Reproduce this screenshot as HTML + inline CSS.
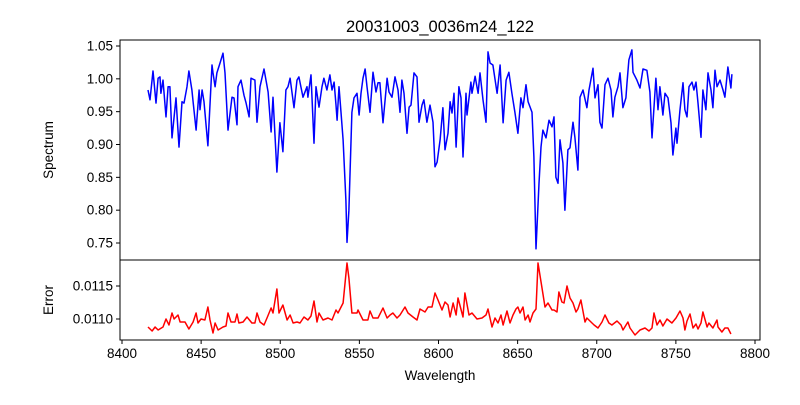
<!DOCTYPE html>
<html><head><meta charset="utf-8"><style>
body{margin:0;background:#fff}
svg text{font-family:"Liberation Sans","DejaVu Sans",sans-serif;fill:#000}
</style></head><body>
<svg id="chart" width="800" height="400" xmlns="http://www.w3.org/2000/svg">
<rect width="800" height="400" fill="#fff"/>
<text x="440" y="32" font-size="16.5" text-anchor="middle">20031003_0036m24_122</text>
<g id="topPanel"></g>
<g id="botPanel"></g>
<text transform="translate(53,150) rotate(-90)" font-size="13.5" text-anchor="middle">Spectrum</text>
<text transform="translate(53,300) rotate(-90)" font-size="13.5" text-anchor="middle">Error</text>
<text x="440" y="380" font-size="13.5" text-anchor="middle">Wavelength</text>
</svg>
<script>
const specWave=[8416.4,8417.7,8419.6,8421.5,8422.8,8424.0,8424.6,8425.9,8427.8,8429.1,8430.3,8431.6,8434.1,8436.0,8437.9,8439.2,8441.1,8442.3,8444.2,8444.9,8446.8,8448.7,8449.3,8450.6,8451.8,8454.3,8456.9,8457.5,8458.8,8460.0,8461.9,8463.8,8465.1,8467.0,8469.5,8470.8,8472.7,8473.3,8475.2,8477.1,8478.4,8480.3,8481.5,8484.0,8485.3,8487.2,8489.7,8492.3,8494.2,8495.4,8497.9,8499.8,8501.7,8503.6,8504.9,8506.2,8508.7,8510.6,8511.8,8514.4,8516.9,8517.5,8519.4,8521.3,8522.6,8524.5,8526.4,8527.6,8529.5,8531.4,8532.7,8534.0,8535.2,8535.9,8537.1,8538.4,8539.7,8541.5,8542.2,8543.4,8545.3,8546.6,8548.5,8549.8,8551.0,8552.3,8553.6,8554.8,8556.7,8558.6,8560.5,8561.8,8563.0,8564.9,8567.5,8568.7,8570.6,8572.5,8574.4,8575.7,8576.9,8578.2,8580.1,8581.4,8582.6,8584.5,8586.4,8587.7,8589.6,8590.8,8592.7,8594.6,8596.5,8597.8,8599.1,8601.0,8602.8,8604.1,8606.0,8607.3,8608.5,8609.8,8611.1,8612.9,8614.2,8615.5,8617.4,8618.0,8620.5,8621.2,8623.1,8625.0,8626.2,8628.1,8630.0,8631.3,8632.6,8634.4,8637.0,8638.9,8640.8,8642.7,8644.5,8646.4,8648.3,8650.2,8652.1,8653.4,8655.3,8656.6,8659.1,8660.3,8661.6,8663.5,8664.8,8666.0,8667.9,8669.8,8671.7,8673.0,8674.2,8675.5,8676.8,8678.6,8679.9,8681.8,8683.1,8685.0,8686.2,8688.1,8689.4,8691.3,8693.8,8695.1,8697.6,8698.9,8700.8,8702.0,8703.3,8705.2,8707.1,8709.0,8710.2,8711.5,8713.4,8714.7,8716.5,8718.4,8719.1,8720.3,8722.2,8722.9,8725.4,8727.3,8729.2,8731.7,8733.6,8734.9,8737.4,8738.7,8739.9,8741.8,8743.1,8745.0,8746.9,8748.1,8750.0,8750.7,8752.6,8754.5,8755.7,8757.0,8758.3,8760.2,8761.4,8762.7,8764.0,8765.9,8767.1,8769.0,8770.3,8772.2,8773.4,8774.7,8776.0,8777.9,8779.8,8781.0,8782.9,8784.8,8785.4];
const specFlux=[.983,.968,1.012,.963,1.001,1.003,.978,.998,.942,.988,.988,.910,.971,.896,.965,.963,.988,1.012,.983,.965,.922,.983,.953,.983,.965,.898,1.021,1.009,.988,1.009,1.024,1.039,1.009,.922,.972,.971,.930,.988,.998,.975,.963,.942,1.001,.998,.934,.988,1.015,.980,.919,.972,.858,.933,.889,.983,.988,1.001,.956,.998,1.003,.972,.988,.972,1.006,.902,.988,.957,.988,1.001,.983,1.006,.983,.995,.960,.937,.988,.949,.907,.815,.751,.800,.949,.971,.978,.945,.978,1.001,1.015,.988,.949,1.010,.980,.994,.994,.933,1.001,.980,.972,1.003,.983,.949,.998,.978,.917,.957,.960,1.009,1.003,.934,.960,.968,.934,.960,.934,.866,.873,.907,.956,.892,.917,.965,.948,.978,.896,.988,.971,.881,.978,.945,.995,.978,1.004,.978,1.009,.968,.934,1.041,1.024,1.021,.978,1.021,.933,.998,1.010,.978,.949,.917,.971,.956,.991,.965,.949,.881,.741,.841,.896,.922,.910,.937,.927,.942,.850,.841,.907,.872,.800,.892,.895,.934,.911,.861,.972,.983,.956,.983,1.016,.971,.991,.934,.925,.991,1.001,.983,.942,.972,.988,1.009,.956,.971,.994,1.029,1.044,1.010,.998,.986,1.015,1.013,.980,.910,1.001,.953,.988,.945,.978,.971,.933,.884,.925,.902,.953,.994,.953,.942,.988,.995,.983,.995,.963,.911,.983,.953,1.009,.983,.956,1.013,.988,.998,.983,.972,1.018,.986,1.007];
const errWave=[8416.4,8419.0,8420.9,8422.8,8425.9,8427.8,8429.7,8431.6,8432.9,8435.4,8436.7,8439.8,8442.3,8444.9,8446.8,8448.0,8449.9,8452.4,8454.3,8455.6,8457.5,8458.8,8460.7,8463.8,8465.7,8467.0,8468.9,8471.4,8472.7,8473.9,8476.5,8479.0,8482.1,8484.0,8485.3,8487.2,8489.7,8491.6,8494.2,8495.4,8497.9,8499.2,8501.7,8504.3,8506.2,8508.1,8510.6,8512.5,8515.0,8517.5,8519.4,8521.3,8523.2,8524.5,8527.0,8530.2,8532.7,8535.2,8536.5,8539.7,8542.2,8543.4,8545.3,8548.5,8549.1,8552.3,8555.4,8556.7,8558.6,8561.8,8564.9,8567.5,8569.4,8571.2,8573.8,8575.7,8578.8,8580.7,8583.9,8586.4,8588.3,8591.5,8593.4,8595.9,8597.8,8599.7,8602.2,8604.1,8606.0,8607.3,8609.2,8611.1,8612.3,8615.5,8616.7,8619.3,8621.2,8624.3,8627.5,8630.0,8631.3,8633.8,8635.7,8637.6,8639.5,8640.8,8643.3,8645.2,8647.1,8649.0,8650.2,8651.5,8653.4,8654.7,8656.6,8657.8,8659.7,8661.6,8662.9,8665.4,8667.3,8669.2,8671.7,8673.0,8674.9,8676.1,8678.0,8679.3,8681.2,8683.1,8685.0,8686.9,8688.1,8690.0,8692.6,8693.8,8697.0,8698.3,8700.8,8703.3,8705.2,8707.7,8709.6,8712.8,8715.3,8716.6,8719.7,8721.0,8724.2,8727.3,8730.5,8733.0,8734.9,8736.2,8738.1,8740.0,8741.8,8744.4,8747.5,8750.1,8752.6,8754.5,8755.7,8757.0,8758.9,8760.8,8762.7,8764.0,8765.9,8767.1,8769.7,8770.9,8773.4,8776.0,8776.6,8779.1,8781.0,8782.9,8784.8];
const errVal=[.010879,.010818,.010879,.010833,.010879,.011,.010909,.011091,.011,.011061,.010955,.010955,.010848,.010955,.011091,.010939,.011,.010985,.011182,.010985,.010788,.010939,.010833,.010879,.010894,.011091,.010955,.010955,.011076,.010939,.010955,.01103,.010939,.010939,.011091,.010955,.010909,.011015,.011167,.011091,.011455,.011091,.011212,.010985,.011061,.010939,.010955,.010939,.01103,.010985,.011045,.011273,.010955,.011091,.010985,.011015,.010985,.011136,.011091,.011242,.011848,.011621,.011091,.011091,.011136,.010985,.010985,.011121,.011015,.011015,.011167,.011015,.011061,.011091,.011015,.011061,.011182,.011091,.01103,.010985,.011152,.011106,.011182,.011182,.011394,.011288,.011136,.011258,.011212,.01103,.011242,.011061,.011318,.01103,.011394,.011061,.011091,.011,.011015,.011061,.011152,.010879,.011015,.010939,.011061,.010909,.011121,.010939,.011061,.011152,.011182,.011091,.011182,.010985,.011061,.010955,.011091,.011152,.011848,.011469,.011182,.011242,.011136,.011136,.011106,.011409,.011258,.011242,.0115,.011318,.011242,.011106,.011152,.011288,.010955,.011015,.010939,.010909,.010864,.010955,.011061,.010939,.010909,.01097,.010909,.010833,.010955,.010864,.010758,.010833,.010864,.010818,.010864,.011091,.010909,.010985,.010894,.011,.010939,.011015,.011121,.011015,.010833,.01097,.011076,.010864,.010924,.010848,.010939,.011106,.010879,.010939,.010864,.010985,.010879,.010803,.010864,.010864,.010773,.010864];
const xTicks=[8400,8450,8500,8550,8600,8650,8700,8750,8800];
const specTicks=[0.75,0.80,0.85,0.90,0.95,1.00,1.05];
const errTicks=[0.0110,0.0115];

const NS='http://www.w3.org/2000/svg';
const L=120,R=760,T1=40,B1=260,T2=260,B2=340;
const xs=w=>122+(w-8400)*1.5825;
const ys=f=>46+(1.05-f)*656.7;
const ye=e=>319-(e-0.011)*66000;
function mk(tag,parent,attrs){const el=document.createElementNS(NS,tag);for(const k in attrs)el.setAttribute(k,attrs[k]);parent.appendChild(el);return el;}
const topG=document.getElementById('topPanel'),botG=document.getElementById('botPanel');

let d=specWave.map((w,i)=>(i?'L':'M')+xs(w).toFixed(1)+' '+ys(specFlux[i]).toFixed(1)).join('');
const sp=mk('path',topG,{d:d,fill:'none',stroke:'#0000ff','stroke-width':1.5,'stroke-linejoin':'round'});


d=errWave.map((w,i)=>(i?'L':'M')+xs(w).toFixed(1)+' '+ye(errVal[i]).toFixed(1)).join('');
const ep=mk('path',botG,{d:d,fill:'none',stroke:'#ff0000','stroke-width':1.5,'stroke-linejoin':'round'});



const f1=mk('rect',topG,{x:L,y:T1,width:R-L,height:B1-T1,fill:'none',stroke:'#000','stroke-width':1});


const f2=mk('rect',botG,{x:L,y:T2,width:R-L,height:B2-T2,fill:'none',stroke:'#000','stroke-width':1});



specTicks.forEach(t=>{const y=ys(t);
 mk('line',topG,{x1:L-4,x2:L,y1:y,y2:y,stroke:'#000'});
 const tx=mk('text',topG,{x:L-7,y:y+4.5,'font-size':13.5,'text-anchor':'end'});tx.textContent=t.toFixed(2);
 
 });
errTicks.forEach(t=>{const y=ye(t);
 mk('line',botG,{x1:L-4,x2:L,y1:y,y2:y,stroke:'#000'});
 const tx=mk('text',botG,{x:L-7,y:y+4.5,'font-size':13.5,'text-anchor':'end'});tx.textContent=t.toFixed(4);
 
 });
xTicks.forEach(t=>{const x=xs(t);
 mk('line',botG,{x1:x,x2:x,y1:B2,y2:B2+4,stroke:'#000'});
 const tx=mk('text',botG,{x:x,y:B2+18,'font-size':13.5,'text-anchor':'middle'});tx.textContent=t;
 
 });
</script>
</body></html>
